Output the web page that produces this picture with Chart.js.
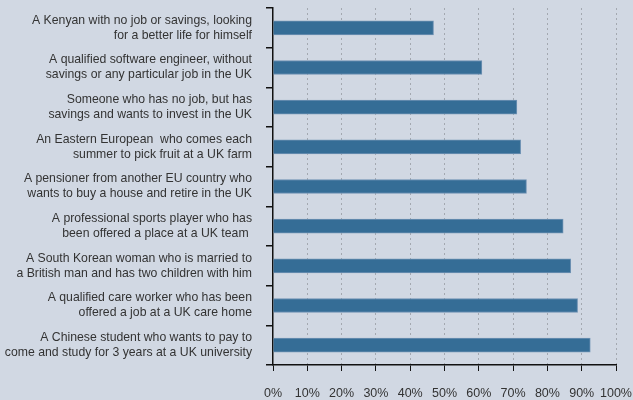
<!DOCTYPE html>
<html><head><meta charset="utf-8">
<script src="https://cdn.jsdelivr.net/npm/chart.js@4/dist/chart.umd.min.js"></script>
<style>
html,body{margin:0;padding:0;background:#d1d8e3;}
#wrap{width:633px;height:400px;position:relative;}
</style></head>
<body><div id="wrap"><canvas id="c"></canvas></div>
<script>
const categories = [
  ["A Kenyan with no job or savings, looking", "for a better life for himself"],
  ["A qualified software engineer, without", "savings or any particular job in the UK"],
  ["Someone who has no job, but has", "savings and wants to invest in the UK"],
  ["An Eastern European  who comes each", "summer to pick fruit at a UK farm"],
  ["A pensioner from another EU country who", "wants to buy a house and retire in the UK"],
  ["A professional sports player who has", "been offered a place at a UK team "],
  ["A South Korean woman who is married to", "a British man and has two children with him"],
  ["A qualified care worker who has been", "offered a job at a UK care home"],
  ["A Chinese student who wants to pay to", "come and study for 3 years at a UK university"]
];
const values = [46.8, 60.9, 71.1, 72.2, 73.9, 84.6, 86.8, 88.8, 92.5];
const xTicks = [0,10,20,30,40,50,60,70,80,90,100];

const fontY = {family: "'Liberation Sans', Arial, sans-serif", size: 12.25, lineHeight: 1.22};
const fontX = {family: "'Liberation Sans', Arial, sans-serif", size: 12.5};
new Chart(document.getElementById('c'), {
  type: 'bar',
  data: {
    labels: categories,
    datasets: [{
      data: values,
      backgroundColor: '#356d96',
      borderColor: '#6f92b3',
      borderWidth: 1,
      borderSkipped: 'left',
      barThickness: 14
    }]
  },
  options: {
    indexAxis: 'y',
    responsive: true,
    maintainAspectRatio: false,
    animation: false,
    layout: {padding: {top: 8, right: 17, left: 0, bottom: 0}},
    plugins: {legend: {display: false}, tooltip: {enabled: false}},
    scales: {
      x: {
        min: 0, max: 100,
        afterBuildTicks: s => { s.ticks = xTicks.map(v => ({value: v})); },
        afterFit: s => { s.height = 35; s.paddingLeft = 0; s.paddingRight = 0; },
        ticks: {color: '#333', font: fontX, padding: 15, maxRotation: 0, autoSkip: false, callback: v => v + '%'},
        grid: {
          color: (ctx) => ctx.tick && ctx.tick.value === 0 ? 'rgba(0,0,0,0)' : '#a3a8b0',
          tickColor: '#111',
          tickLength: 6,
          lineWidth: 1,
        },
        border: {display: true, color: '#111', width: 1.5, dash: [2, 3]}
      },
      y: {
        afterFit: s => { s.width = 273; s.paddingTop = 0; s.paddingBottom = 0; },
        ticks: {color: '#333', font: fontY, padding: 14},
        grid: {
          offset: true,
          drawOnChartArea: false,
          tickColor: '#111',
          tickLength: 7,
          lineWidth: 1.5
        },
        border: {display: true, color: '#111', width: 1.5}
      }
    }
  }
});
</script></body></html>
